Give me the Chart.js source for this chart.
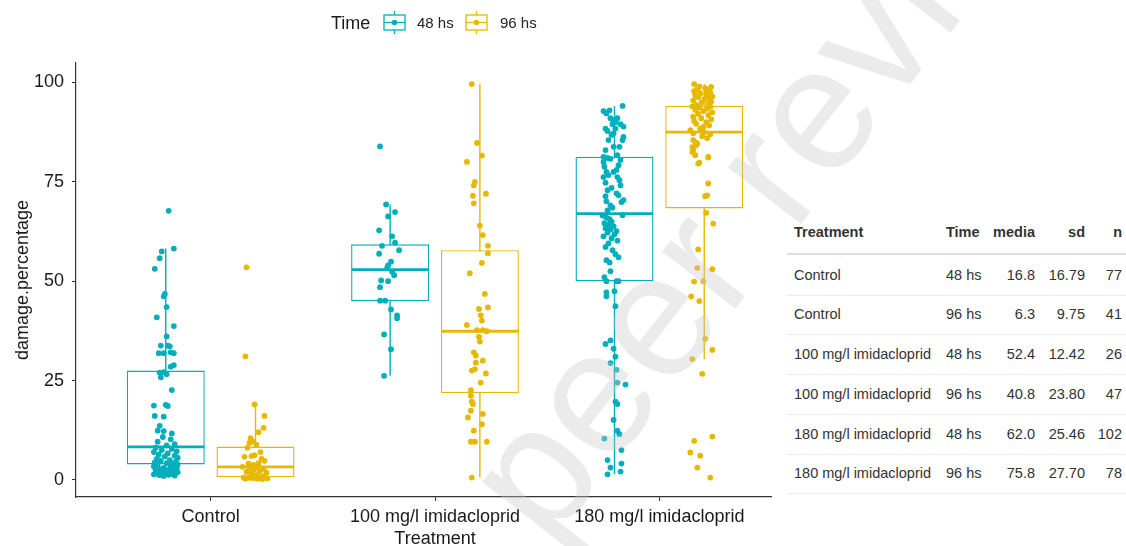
<!DOCTYPE html>
<html><head><meta charset="utf-8">
<script src="https://cdn.jsdelivr.net/npm/chart.js@4.4.1/dist/chart.umd.min.js"></script>
<style>
html,body{margin:0;padding:0;background:#fff;}
#wrap{position:relative;width:1126px;height:546px;overflow:hidden;font-family:"Liberation Sans",Arial,sans-serif;}
#c{position:absolute;left:0;top:0;}
#tbl{position:absolute;left:772px;top:75px;width:354px;height:445px;background:#fff;color:#333;font-size:14.5px;}
#tbl .cell{position:absolute;white-space:nowrap;line-height:18px;}
#tbl .line{position:absolute;left:15px;width:339px;}
svg.ov{position:absolute;left:0;top:0;pointer-events:none;}
</style></head>
<body>
<div id="wrap">
<canvas id="c" width="1126" height="546"></canvas>
<div id="tbl"></div>
<svg class="ov" id="legend" width="1126" height="46"></svg>
<svg class="ov" id="wm" width="1126" height="546">
  <text transform="translate(548,548) rotate(-52)" font-size="175" font-family="Liberation Sans, Arial, sans-serif" fill="rgb(200,200,200)" fill-opacity="0.37">peer review</text>
</svg>
</div>
<script>
// ---------- data ----------
const categories = ['Control', '100 mg/l imidacloprid', '180 mg/l imidacloprid'];
const timeLabels = ['48 hs', '96 hs'];
const yTickValues = [0, 25, 50, 75, 100];

// box statistics per category
const lower48  = [1.0, 26.2, 1.4];
const q1_48    = [3.9, 45.0, 50.0];
const median48 = [8.3, 52.9, 67.0];
const q3_48    = [27.5, 59.3, 81.3];
const upper48  = [58.2, 69.3, 94.1];

const lower96  = [0.2, 0.6, 30.4];
const q1_96    = [0.7, 21.8, 68.3];
const median96 = [3.3, 37.4, 87.5];
const q3_96    = [8.4, 57.8, 94.1];
const upper96  = [19.0, 99.6, 99.6];

// observations (damage.percentage) and horizontal jitter (category units)
const ctrl48 = [67.7,58.2,57.5,55.8,53.1,46.8,46.2,43.5,40.9,38.7,36.1,33.8,33.8,33.6,31.9,31.9,32.1,31.9,28.9,28.5,27.0,27.1,26.6,25.8,22.6,18.7,18.9,18.6,16.1,15.9,13.6,12.4,12.3,11.7,10.8,10.2,9.6,9.0,8.7,8.1,7.8,7.5,7.2,7.0,6.7,6.4,6.1,5.9,5.6,5.3,5.0,4.8,4.6,4.4,4.2,4.0,3.9,3.8,3.6,3.4,3.2,3.0,2.9,2.7,2.5,2.4,2.2,2.0,1.9,1.8,1.6,1.5,1.4,1.3,1.2,1.1,1.0];
const ctrl48Jit = [.013,.036,-.018,-.027,-.049,-.004,-.009,.004,-.040,.036,.004,-.022,.009,.018,-.031,-.009,.022,.036,.036,.022,-.027,-.009,.004,-.022,.027,-.053,0,.009,-.049,-.009,-.027,-.036,-.009,.027,-.013,.022,-.036,.040,.004,-.045,.027,-.018,.049,-.053,.009,-.031,.040,-.004,.053,-.040,.018,-.022,.045,-.049,.004,.031,.053,-.036,.022,-.053,.040,-.009,.049,-.027,.013,-.045,.031,-.018,.053,0,-.040,.027,-.053,.013,-.027,.040,-.009];

const ctrl96 = [53.5,31.1,19.0,16.1,13.1,12.0,10.5,9.7,9.3,8.9,8.1,7.0,6.2,6.0,5.8,5.3,4.8,4.2,4.1,3.8,3.3,3.2,3.0,2.8,2.5,2.2,2.0,1.8,1.5,1.2,0.9,0.6,0.6,0.5,0.5,0.6,0.4,0.3,0.3,0.2,0.5];
const ctrl96Jit = [-.040,-.045,-.004,.040,.036,.013,-.022,-.013,-.027,.004,-.036,.022,-.004,-.018,-.049,.027,.040,.013,-.031,-.009,-.058,.009,-.027,.036,-.009,.018,-.040,.049,-.018,.004,.031,-.053,-.031,-.004,.018,.040,.053,-.045,.009,.031,-.018];

const imi100_48 = [83.9,69.3,67.4,66.3,62.8,61.3,59.7,58.9,57.8,56.9,54.9,54.0,53.4,52.4,51.5,50.2,50.0,48.5,45.1,45.1,42.9,41.4,40.7,36.6,32.9,26.2];
const imi100_48Jit = [-.045,-.018,.022,-.009,-.049,.009,.022,-.036,.040,-.049,.004,-.009,-.013,.009,.018,-.040,-.009,-.045,-.045,-.022,.004,.031,.031,-.027,.004,-.027];

const imi100_96 = [99.6,84.8,81.6,80.0,75.0,74.1,71.5,69.6,72.0,64.0,61.6,58.9,57.0,54.6,52.0,46.8,43.0,43.4,41.4,40.1,39.0,37.7,37.7,37.4,36.0,34.8,32.1,31.3,30.0,29.5,27.5,27.9,26.8,24.5,22.6,21.2,19.7,19.1,17.4,15.7,16.6,14.0,12.4,9.6,9.6,9.6,0.6];
const imi100_96Jit = [-.036,-.013,.009,-.058,-.022,-.027,-.031,-.027,.027,0,.013,.036,.036,.009,-.045,.022,-.004,.036,.004,.009,-.058,-.013,.013,.031,-.004,0,-.027,-.018,.013,-.018,-.036,-.022,.027,.004,-.040,-.040,-.036,-.031,-.040,-.053,.013,.009,-.027,-.040,-.022,.031,-.036];

const imi180_48 = [94.1,92.8,92.2,91.0,90.5,91.0,89.5,89.5,88.9,88.4,87.8,88.4,87.2,86.3,85.5,85.5,83.8,83.8,83.0,81.7,81.3,80.5,93.0,90.0,86.8,
  80.0,78.8,77.5,76.7,77.5,76.2,75.4,74.1,76.2,74.8,72.9,72.1,71.6,71.4,70.1,70.4,69.9,69.1,67.8,68.5,79.2,80.8,73.5,78.0,81.0,
  66.6,66.5,66.0,65.6,65.0,64.6,64.2,63.8,63.3,63.0,62.6,62.2,61.8,61.3,60.8,60.2,59.5,58.6,57.8,56.8,56.0,55.3,54.7,52.5,51.0,
  50.0,50.0,50.0,47.2,46.2,47.5,43.7,34.2,35.1,33.0,29.4,27.7,24.5,24.0,19.7,19.1,15.1,12.4,11.5,10.4,7.5,5.0,4.1,3.1,2.1,1.4,31.0];
const imi180_48Jit = [.036,-.049,-.036,-.018,-.004,.013,-.009,.027,.040,-.040,-.031,.004,-.004,.040,.036,-.027,-.004,.022,-.040,.013,-.049,.027,-.022,.004,-.013,
  -.049,-.045,-.036,-.027,-.004,.013,.022,.027,-.049,-.040,-.031,.009,.018,-.040,-.036,.040,.031,-.018,-.031,-.009,.018,-.018,-.013,.009,-.031,
  .036,-.053,-.036,-.022,-.013,-.045,-.027,-.004,-.040,-.018,.009,-.031,0,-.049,-.013,.013,-.027,-.040,-.009,.004,.018,-.036,-.022,-.018,-.045,
  -.036,.018,.009,-.036,-.036,0,.004,-.040,-.018,-.004,-.018,.009,.013,.049,.004,.013,-.004,.013,.022,-.045,.031,-.031,.031,-.018,.027,-.031,.004];

const imi180_96 = [67.2,64.5,58.0,53.3,53.0,49.9,50.0,46.2,45.0,35.5,32.7,30.4,26.7,10.9,9.8,6.9,6.1,3.1,0.6,
  71.4,71.6,74.6,79.8,81.1,83.0,83.7,84.7,87.2,85.5,84.2,82.5,81.7,81.3,79.6,86.5,86.0,85.0,87.0,
  87.5,
  88.0,88.4,88.8,89.2,89.6,90.0,90.3,90.7,91.0,91.4,91.8,92.1,92.5,92.8,93.1,93.4,93.7,93.9,94.0,
  94.3,94.6,94.9,95.2,95.5,95.8,96.0,96.3,96.5,96.8,97.0,97.3,97.5,97.8,98.0,98.3,98.6,99.0,99.6,98.9];
const imi180_96Jit = [.009,.040,-.027,-.031,.036,-.045,-.004,-.058,-.022,.004,.036,-.053,-.009,.036,-.045,-.062,-.018,-.031,.027,
  .004,.013,.018,-.022,.018,-.049,-.053,-.031,-.049,-.049,-.036,-.053,-.040,.018,-.027,-.009,.013,-.040,.027,
  0,
  -.062,-.018,-.004,.022,-.036,.009,-.045,.031,-.013,-.049,.018,-.027,.036,-.004,-.040,.013,-.022,.027,-.053,
  -.036,.018,-.013,.031,-.049,0,.022,-.027,.036,-.040,.009,-.018,.027,-.045,.013,-.031,.004,-.022,-.045,.031];

// summary table
const tblTreatment = ['Control','Control','100 mg/l imidacloprid','100 mg/l imidacloprid','180 mg/l imidacloprid','180 mg/l imidacloprid'];
const tblTime  = ['48 hs','96 hs','48 hs','96 hs','48 hs','96 hs'];
const tblMedia = ['16.8','6.3','52.4','40.8','62.0','75.8'];
const tblSd    = ['16.79','9.75','12.42','23.80','25.46','27.70'];
const tblN     = ['77','41','26','47','102','78'];

// ---------- styling / construction ----------
const COL = ['#00AFBB', '#E7B800'];
const DODGE = [-0.2, 0.2];
const obs48 = [[ctrl48, ctrl48Jit], [imi100_48, imi100_48Jit], [imi180_48, imi180_48Jit]];
const obs96 = [[ctrl96, ctrl96Jit], [imi100_96, imi100_96Jit], [imi180_96, imi180_96Jit]];
const stats = [
  {lo: lower48, q1: q1_48, md: median48, q3: q3_48, hi: upper48, obs: obs48},
  {lo: lower96, q1: q1_96, md: median96, q3: q3_96, hi: upper96, obs: obs96}
];

const datasets = [];
stats.forEach((s, t) => {
  const xs = categories.map((c, i) => i + 1 + DODGE[t]);
  datasets.push({
    type: 'bar', label: timeLabels[t] + ' whisker', order: 4, grouped: false,
    data: xs.map((x, i) => ({x, y: [s.lo[i], s.hi[i]]})),
    backgroundColor: COL[t], borderWidth: 0, barThickness: 1.4, inflateAmount: 0
  });
  datasets.push({
    type: 'bar', label: timeLabels[t] + ' box', order: 3, grouped: false,
    data: xs.map((x, i) => ({x, y: [s.q1[i], s.q3[i]]})),
    backgroundColor: '#ffffff', borderColor: COL[t], borderWidth: 1.4, borderSkipped: false,
    barThickness: 78, inflateAmount: 0
  });
  datasets.push({
    type: 'scatter', label: timeLabels[t] + ' median', order: 2,
    data: xs.map((x, i) => ({x, y: s.md[i]})),
    pointStyle: 'line', pointRadius: 38.5, borderColor: COL[t], borderWidth: 2.8, showLine: false
  });
  const pts = [];
  s.obs.forEach(([vals, jit], i) => {
    vals.forEach((v, k) => pts.push({x: xs[i] + jit[k], y: v}));
  });
  datasets.push({
    type: 'scatter', label: timeLabels[t], order: 1,
    data: pts, pointRadius: 2.9, pointBorderWidth: 0, backgroundColor: COL[t], showLine: false
  });
});

const FONT = '"Liberation Sans", Arial, sans-serif';
new Chart(document.getElementById('c'), {
  type: 'scatter',
  data: {datasets},
  options: {
    responsive: false, animation: false, events: [],
    layout: {padding: {top: 63, right: 332, left: 0, bottom: 0}},
    plugins: {legend: {display: false}, tooltip: {enabled: false}},
    scales: {
      x: {
        type: 'linear', min: 0.4, max: 3.6, offset: false,
        afterFit: s => { s.height = 49; },
        afterBuildTicks: s => { s.ticks = categories.map((c, i) => ({value: i + 1})); },
        ticks: {callback: v => categories[Math.round(v) - 1], font: {size: 18, family: FONT}, color: '#1a1a1a', padding: 5, maxRotation: 0, autoSkip: false},
        grid: {display: true, drawOnChartArea: false, drawTicks: true, tickLength: 4, color: '#333', offset: false},
        border: {display: true, color: '#333', width: 1.2},
        title: {display: true, text: 'Treatment', font: {size: 18, family: FONT, lineHeight: 0.8}, color: '#1a1a1a', padding: {top: 0, bottom: 0}}
      },
      y: {
        type: 'linear', min: -4.3, max: 104.9,
        afterFit: s => { s.width = 76; },
        afterBuildTicks: s => { s.ticks = yTickValues.map(v => ({value: v})); },
        ticks: {font: {size: 18, family: FONT}, color: '#1a1a1a', padding: 8},
        grid: {display: true, drawOnChartArea: false, drawTicks: true, tickLength: 4, color: '#333'},
        border: {display: true, color: '#333', width: 1.2},
        title: {display: true, text: 'damage.percentage', font: {size: 18, family: FONT}, color: '#1a1a1a', padding: {top: 12, bottom: 0}}
      }
    }
  }
});

// ---------- legend ----------
const NS = 'http://www.w3.org/2000/svg';
const lg = document.getElementById('legend');
function el(tag, attrs, text) {
  const e = document.createElementNS(NS, tag);
  for (const k in attrs) e.setAttribute(k, attrs[k]);
  if (text) e.textContent = text;
  lg.appendChild(e);
  return e;
}
el('text', {x: 331, y: 29, 'font-size': 18, 'font-family': FONT, fill: '#1a1a1a'}, 'Time');
const iconX = [384, 466], textX = [417, 500];
timeLabels.forEach((lab, t) => {
  const x = iconX[t], c = COL[t];
  el('line', {x1: x + 10.5, y1: 11, x2: x + 10.5, y2: 34, stroke: c, 'stroke-width': 1.3});
  el('rect', {x: x, y: 15, width: 21, height: 15, fill: '#fff', stroke: c, 'stroke-width': 1.3});
  el('line', {x1: x, y1: 22.5, x2: x + 21, y2: 22.5, stroke: c, 'stroke-width': 1.3});
  el('circle', {cx: x + 10.5, cy: 22.5, r: 2.8, fill: c});
  el('text', {x: textX[t], y: 28, 'font-size': 15, 'font-family': FONT, fill: '#222'}, lab);
});

// ---------- table ----------
const tbl = document.getElementById('tbl');
const OT = 75, OL = 772;
function cell(txt, y, opts) {
  const d = document.createElement('div');
  d.className = 'cell';
  d.textContent = txt;
  d.style.top = (y - OT - 9) + 'px';
  if (opts.left !== undefined) d.style.left = (opts.left - OL) + 'px';
  if (opts.right !== undefined) d.style.right = (1126 - opts.right) + 'px';
  if (opts.bold) d.style.fontWeight = 'bold';
  tbl.appendChild(d);
}
function hline(y, h, c) {
  const d = document.createElement('div');
  d.className = 'line';
  d.style.top = (y - OT) + 'px';
  d.style.height = h + 'px';
  d.style.background = c;
  tbl.appendChild(d);
}
const hy = 232;
cell('Treatment', hy, {left: 794, bold: true});
cell('Time', hy, {left: 946, bold: true});
cell('media', hy, {right: 1035, bold: true});
cell('sd', hy, {right: 1085, bold: true});
cell('n', hy, {right: 1122, bold: true});
hline(253, 2, '#dddddd');
tblTreatment.forEach((tr, i) => {
  const y = 274.5 + i * 39.75;
  cell(tr, y, {left: 794});
  cell(tblTime[i], y, {left: 946});
  cell(tblMedia[i], y, {right: 1035});
  cell(tblSd[i], y, {right: 1085});
  cell(tblN[i], y, {right: 1122});
  hline(y + 20, 1, '#ececec');
});
</script>
</body></html>
